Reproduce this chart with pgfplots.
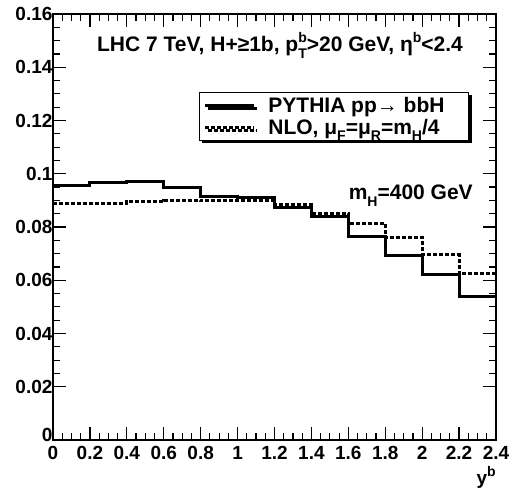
\documentclass[border=0pt]{standalone}
\usepackage{fontspec}
\setmainfont{Liberation Sans}
\usepackage{pgfplots}
\pgfplotsset{compat=1.18}
\usetikzlibrary{shadows}
\newcommand{\sub}[1]{\raisebox{-0.6ex}{\fontsize{14}{15}\selectfont #1}}
\newcommand{\sups}[1]{\raisebox{0.8ex}{\fontsize{14}{15}\selectfont #1}}
\newcommand{\supsub}[2]{\rlap{\sups{#1}}\sub{#2}}
\newcommand{\bigfont}{\fontsize{21}{23}\selectfont\bfseries}
\newcommand{\tickfont}{\fontsize{19}{21}\selectfont\bfseries}
\begin{document}
\begin{tikzpicture}[x=1pt,y=1pt]
\useasboundingbox (-53,-52) rectangle (475,440);
\begin{axis}[
  at={(0,0)}, anchor=south west,
  scale only axis, width=443pt, height=426pt,
  xmin=0, xmax=2.4, ymin=0, ymax=0.16,
  clip mode=individual,
  xtick={0,0.2,0.4,0.6,0.8,1,1.2,1.4,1.6,1.8,2,2.2,2.4},
  ytick={0.02,0.04,0.06,0.08,0.1,0.12,0.14,0.16},
  extra y ticks={0},
  extra y tick style={yticklabel style={yshift=5pt}},
  minor x tick num=3, minor y tick num=3,
  tick align=inside, tick pos=both,
  major tick length=13pt, minor tick length=7pt,
  scaled y ticks=false,
  yticklabel style={/pgf/number format/fixed, /pgf/number format/precision=2, xshift=3pt},
  xticklabel style={yshift=-3pt},
  /pgf/number format/assume math mode=true,
  tick label style={font=\tickfont},
  axis line style={line width=1.2pt},
  every tick/.style={line width=1.2pt, black},
  legend cell align=left,
  legend image code/.code={\draw[#1] (0pt,0pt) -- (49pt,0pt); \path (60pt,0pt);},
  legend style={at={(axis cs:0.791,0.1307)}, anchor=north west,
    draw=black, line width=0.8pt, fill=white,
    drop shadow={shadow xshift=3pt, shadow yshift=-3pt, fill=black, opacity=1},
    font=\bigfont,
    inner xsep=4pt, inner ysep=2.5pt, row sep=1.5pt},
]
\addplot[const plot, line width=3pt, black] coordinates {
(0,0.0954) (0.2,0.0966) (0.4,0.0971) (0.6,0.0948) (0.8,0.0914) (1.0,0.0909)
(1.2,0.0873) (1.4,0.0840) (1.6,0.0765) (1.8,0.0693) (2.0,0.0621) (2.2,0.0540) (2.4,0.0540)};
\addlegendentry{PYTHIA pp→ bbH\hspace*{18pt}\mbox{}}
\addplot[const plot, line width=3pt, black, dash pattern=on 4pt off 2pt] coordinates {
(0,0.0888) (0.2,0.0888) (0.4,0.0894) (0.6,0.0901) (0.8,0.0900) (1.0,0.0898)
(1.2,0.0885) (1.4,0.0850) (1.6,0.0813) (1.8,0.0760) (2.0,0.0696) (2.2,0.0625) (2.4,0.0625)};
\addlegendentry{NLO, μ\sub{F}=μ\sub{R}=m\sub{H}/4}
\node[anchor=base, inner sep=0, font=\bigfont] at (axis cs:1.23,0.1458)
  {LHC 7 TeV, H+≥1b, p\supsub{b}{T}>20 GeV, η\sups{b}<2.4};
\node[anchor=base east, inner sep=0, font=\bigfont] at (axis cs:2.275,0.0902)
  {m\sub{H}=400 GeV};
\node[anchor=north east, inner sep=0, font=\tickfont] at (rel axis cs:1,0) [yshift=-26pt]
  {y\sups{b}};
\end{axis}
\end{tikzpicture}
\end{document}
